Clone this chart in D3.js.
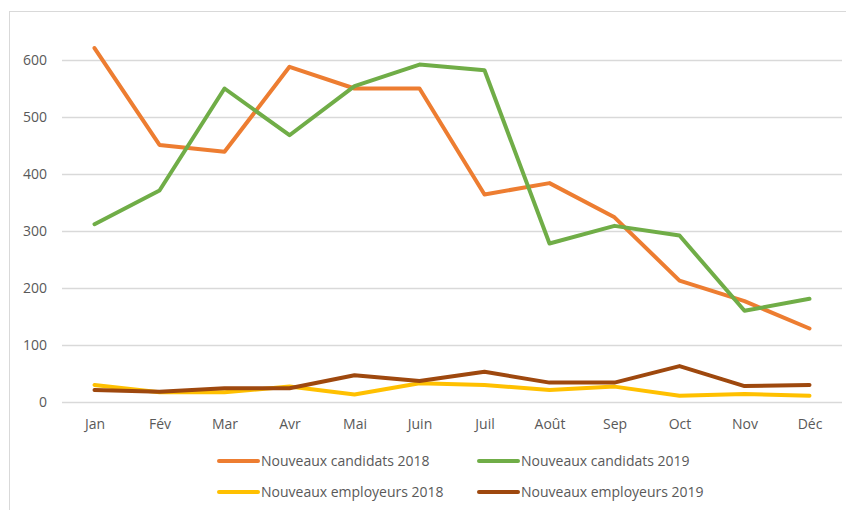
<!DOCTYPE html>
<html>
<head>
<meta charset="utf-8">
<script src="https://cdn.jsdelivr.net/npm/d3@7"></script>
<style>
  body { margin: 0; background: #fff; }
  text { font-family: "Open Sans", "Liberation Sans", sans-serif; fill: #595959; }
</style>
</head>
<body>
<div id="chart"></div>
<script>
// months on the x axis
const months = ["Jan", "Fév", "Mar", "Avr", "Mai", "Juin", "Juil", "Août", "Sep", "Oct", "Nov", "Déc"];
const yTicks = [0, 100, 200, 300, 400, 500, 600];

// values
const candidats2018 = [621, 451, 439, 588, 550, 550, 364, 384, 324, 213, 177, 129];
const candidats2019 = [312, 371, 550, 468, 554, 592, 582, 278, 309, 292, 160, 181];
const employeurs2018 = [30, 17, 17, 27, 13, 33, 30, 21, 27, 11, 14, 11];
const employeurs2019 = [21, 18, 24, 24, 47, 37, 53, 34, 34, 63, 28, 30];

const seriesNames = ["Nouveaux candidats 2018", "Nouveaux candidats 2019", "Nouveaux employeurs 2018", "Nouveaux employeurs 2019"];
const seriesColors = ["#ED7D31", "#70AD47", "#FFC000", "#9E480E"];
const allSeries = [candidats2018, candidats2019, employeurs2018, employeurs2019];

const width = 846, height = 510;
const margin = {top: 60, right: 4, bottom: 108, left: 62};

const svg = d3.select("#chart")
  .append("svg")
    .attr("width", width)
    .attr("height", height);

// light frame of the chart area
svg.append("rect")
  .attr("x", 9.5).attr("y", 11.5)
  .attr("width", width).attr("height", height)
  .attr("fill", "none")
  .attr("stroke", "#D9D9D9");

const x = d3.scalePoint()
  .domain(months)
  .range([margin.left, width - margin.right])
  .padding(0.5);

const y = d3.scaleLinear()
  .domain([0, 600])
  .range([height - margin.bottom, margin.top]);

// gridlines + y labels
const yAxis = svg.append("g")
  .attr("transform", `translate(${margin.left},0)`)
  .call(d3.axisLeft(y).tickValues(yTicks).tickSize(-(width - margin.left - margin.right)).tickPadding(15));
yAxis.select(".domain").remove();
yAxis.selectAll(".tick line").attr("stroke", "#D9D9D9").attr("stroke-width", 1.3);
yAxis.selectAll(".tick text").attr("font-size", 14).attr("fill", "#595959")
  .style("font-family", "'Open Sans', sans-serif");

// x labels
const xAxis = svg.append("g")
  .attr("transform", `translate(0,${y(0)})`)
  .call(d3.axisBottom(x).tickSize(0).tickPadding(17));
xAxis.select(".domain").remove();
xAxis.selectAll(".tick text").attr("font-size", 14).attr("fill", "#595959")
  .style("font-family", "'Open Sans', sans-serif");

const line = d3.line()
  .x((d, i) => x(months[i]))
  .y(d => y(d));

allSeries.forEach((vals, k) => {
  svg.append("path")
    .datum(vals)
    .attr("fill", "none")
    .attr("stroke", seriesColors[k])
    .attr("stroke-width", 4)
    .attr("stroke-linejoin", "round")
    .attr("stroke-linecap", "round")
    .attr("d", line);
});

// legend, 2 x 2
const legendCols = [219, 479];
const legendRows = [461, 492];
seriesNames.forEach((name, k) => {
  const lx = legendCols[k % 2], ly = legendRows[Math.floor(k / 2)];
  const g = svg.append("g").attr("transform", `translate(${lx},${ly})`);
  g.append("line")
    .attr("x1", 0).attr("x2", 39)
    .attr("y1", 0).attr("y2", 0)
    .attr("stroke", seriesColors[k])
    .attr("stroke-width", 4)
    .attr("stroke-linecap", "round");
  g.append("text")
    .attr("x", 42).attr("y", 5)
    .attr("font-size", 14)
    .text(name);
});
</script>
</body>
</html>
